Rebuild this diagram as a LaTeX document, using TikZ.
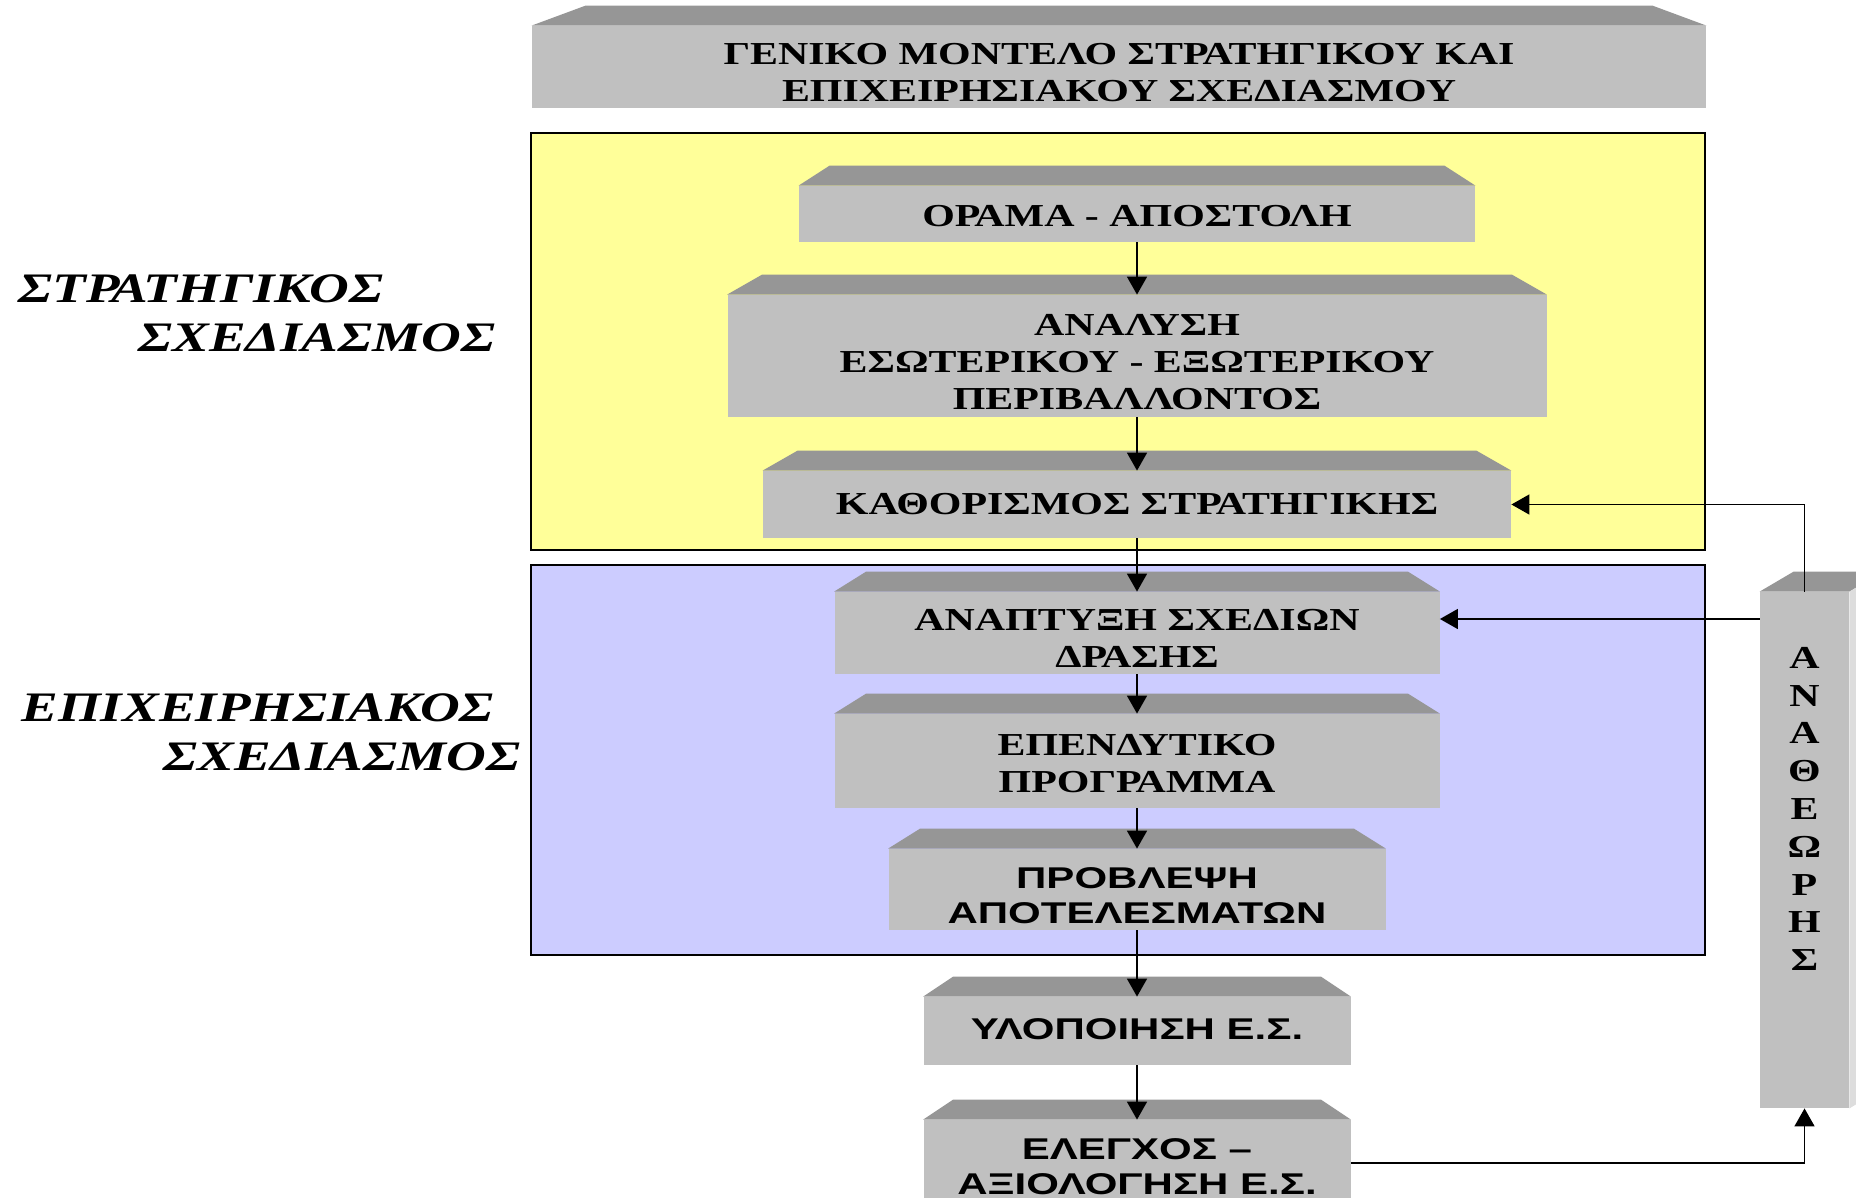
\documentclass[tikz,border=0pt]{standalone}
\usepackage{fontspec}
\setmainfont[FakeStretch=1.31]{Liberation Serif}
\setsansfont[FakeStretch=1.4]{Liberation Sans}
\usetikzlibrary{arrows.meta}
\definecolor{slabfront}{HTML}{C0C0C0}
\definecolor{slabtop}{HTML}{969696}
\definecolor{slabside}{HTML}{DDDDDD}
\definecolor{stratyellow}{HTML}{FFFF99}
\definecolor{opsblue}{HTML}{CCCCFF}
\tikzset{
  slab/.style={fill=slabfront, inner sep=0pt, align=center, font=\bfseries\fontsize{16}{18.5}\selectfont},
  slabtxt/.style={align=center, inner sep=0pt, yshift=-#1, font=\bfseries\fontsize{16}{18.5}\selectfont},
  sanstxt/.style={slabtxt=#1, font=\sffamily\bfseries\fontsize{15}{17.5}\selectfont},
  flow/.style={-{Triangle[length=9pt,width=10pt]}, line width=0.8pt},
  sidelbl/.style={anchor=west, align=left, inner sep=0pt, font=\bfseries\itshape\fontsize{21}{24.5}\selectfont},
}
% top face of a slab: node name, inset
\newcommand{\slabface}[2]{\fill[slabtop] (#1.north west) -- ++(#2,-20) -- ([shift={(-#2,-20)}]#1.north east) -- (#1.north east) -- cycle;}
\begin{document}
\begin{tikzpicture}[x=0.5pt,y=-0.5pt]
\useasboundingbox (0,0) rectangle (1856,1198);
\clip (0,0) rectangle (1856,1198);
\draw[fill=stratyellow, line width=0.75pt] (531,133) rectangle (1705,550);
\draw[fill=opsblue, line width=0.75pt] (531,565) rectangle (1705,955);
\node[sidelbl] (stratlbl) at (18,313) {ΣΤΡΑΤΗΓΙΚΟΣ\\\hspace*{60pt}ΣΧΕΔΙΑΣΜΟΣ};
\node[sidelbl] (opslbl) at (21,732) {ΕΠΙΧΕΙΡΗΣΙΑΚΟΣ\\\hspace*{71pt}ΣΧΕΔΙΑΣΜΟΣ};
\node[slab, minimum width=587pt, minimum height=41pt, label={[slabtxt=3pt]center:{ΓΕΝΙΚΟ ΜΟΝΤΕΛΟ ΣΤΡΑΤΗΓΙΚΟΥ ΚΑΙ\\ΕΠΙΧΕΙΡΗΣΙΑΚΟΥ ΣΧΕΔΙΑΣΜΟΥ}}] (title) at (1119,67) {};
\node[slab, minimum width=338pt, minimum height=28pt, label={[slabtxt=1pt]center:ΟΡΑΜΑ - ΑΠΟΣΤΟΛΗ}] (vision) at (1137,214) {};
\node[slab, minimum width=409.5pt, minimum height=61pt, label={[slabtxt=3pt]center:{ΑΝΑΛΥΣΗ\\ΕΣΩΤΕΡΙΚΟΥ - ΕΞΩΤΕΡΙΚΟΥ\\ΠΕΡΙΒΑΛΛΟΝΤΟΣ}}] (env) at (1137,356) {};
\node[slab, minimum width=374pt, minimum height=33.5pt, label={[slabtxt=0pt]center:ΚΑΘΟΡΙΣΜΟΣ ΣΤΡΑΤΗΓΙΚΗΣ}] (strat) at (1137,504.5) {};
\node[slab, minimum width=302.5pt, minimum height=41pt, label={[slabtxt=2.5pt]center:{ΑΝΑΠΤΥΞΗ ΣΧΕΔΙΩΝ\\ΔΡΑΣΗΣ}}] (plans) at (1137,633) {};
\node[slab, minimum width=302.5pt, minimum height=47pt, label={[slabtxt=1.5pt]center:{ΕΠΕΝΔΥΤΙΚΟ\\ΠΡΟΓΡΑΜΜΑ}}] (invest) at (1137,761) {};
\node[slab, minimum width=248.5pt, minimum height=40.5pt, label={[sanstxt=3pt]center:{ΠΡΟΒΛΕΨΗ\\ΑΠΟΤΕΛΕΣΜΑΤΩΝ}}] (forecast) at (1137,889.5) {};
\node[slab, minimum width=213.5pt, minimum height=34pt, label={[sanstxt=-1pt]center:ΥΛΟΠΟΙΗΣΗ Ε.Σ.}] (impl) at (1137,1031) {};
\node[slab, minimum width=213.5pt, minimum height=43pt, label={[sanstxt=2pt]center:{ΕΛΕΓΧΟΣ –\\ΑΞΙΟΛΟΓΗΣΗ Ε.Σ.}}] (eval) at (1137,1163) {};
\node[slab, minimum width=44.5pt, minimum height=258pt] (review) at (1804.5,850) {};
\node[font=\bfseries\fontsize{16}{18.9}\selectfont, align=center, inner sep=0pt] (reviewtxt) at (1804.5,809) {Α\\Ν\\Α\\Θ\\Ε\\Ω\\Ρ\\Η\\Σ};
\slabface{title}{54}
\slabface{vision}{31}
\slabface{env}{35}
\slabface{strat}{35}
\slabface{plans}{32}
\slabface{invest}{32}
\slabface{forecast}{32}
\slabface{impl}{30}
\slabface{eval}{30}
\fill[slabtop] (review.north west) -- ++(34,-20) -- ++(89,0) -- (review.north east) -- cycle;
\fill[slabside] (review.north east) -- ++(34,-20) -- ++(0,516) -- (review.south east) -- cycle;
\draw[flow] (vision) -- (env);
\draw[flow] (env) -- (strat);
\draw[flow] (strat) -- (plans);
\draw[flow] (plans) -- (invest);
\draw[flow] (invest) -- (forecast);
\draw[flow] (forecast) -- (impl);
\draw[flow] (impl) -- (eval);
\draw[flow] (review.north) |- (strat.east);
\draw[flow] ([yshift=7pt]plans.east -| review.west) -- ([yshift=7pt]plans.east);
\draw[flow] (eval.east) -| (review.south);
\end{tikzpicture}
\end{document}
